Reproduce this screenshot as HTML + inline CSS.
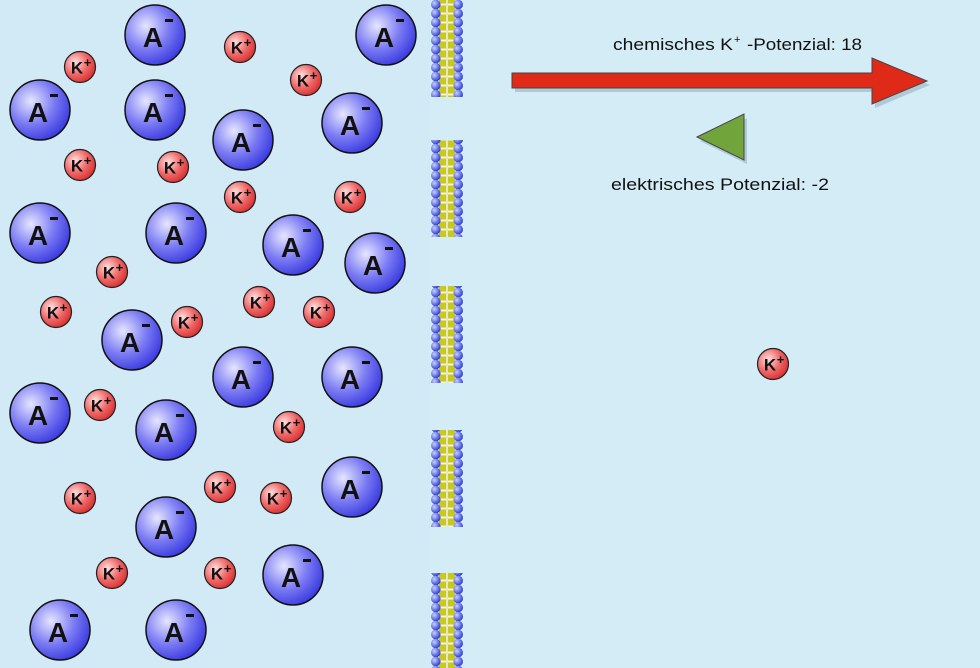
<!DOCTYPE html>
<html><head><meta charset="utf-8"><style>
body{margin:0;width:980px;height:668px;overflow:hidden;background:#d4ecf6;}
svg{display:block}
text{font-family:"Liberation Sans",sans-serif;}
</style></head><body>
<svg width="980" height="668" viewBox="0 0 980 668" xmlns="http://www.w3.org/2000/svg">
<defs>
<radialGradient id="ga" cx="0.35" cy="0.35" r="0.7"><stop offset="0" stop-color="#e6e6ff"/><stop offset="0.55" stop-color="#7c7cf4"/><stop offset="1" stop-color="#3a3ae0"/></radialGradient>
<radialGradient id="gk" cx="0.35" cy="0.35" r="0.7"><stop offset="0" stop-color="#ffe0e0"/><stop offset="0.55" stop-color="#f06a6a"/><stop offset="1" stop-color="#d83030"/></radialGradient>
<radialGradient id="gb" cx="0.35" cy="0.35" r="0.7"><stop offset="0" stop-color="#c8d0ff"/><stop offset="1" stop-color="#2838d0"/></radialGradient>
<pattern id="mem" x="431" y="0" width="32" height="9" patternUnits="userSpaceOnUse">
<rect x="8" y="0" width="16" height="9" fill="#c8c820"/>
<rect x="8" y="3.5" width="16" height="2" fill="#f4f4e0"/>
<rect x="15" y="0" width="2" height="9" fill="#e8e8c0"/>
<circle cx="4.8" cy="4.5" r="4.8" fill="url(#gb)"/>
<circle cx="27.2" cy="4.5" r="4.8" fill="url(#gb)"/>
</pattern>
<g id="A"><circle r="30" fill="url(#ga)" stroke="#111" stroke-width="1.5"/><text x="-2" y="12" font-size="28" font-weight="bold" text-anchor="middle" fill="#111">A</text><rect x="10" y="-16" width="8" height="3" fill="#111"/></g>
<g id="K"><circle r="15.5" fill="url(#gk)" stroke="#222" stroke-width="1.2"/><text x="-3" y="6.5" font-size="17" font-weight="bold" text-anchor="middle" fill="#111">K</text><text x="7.5" y="0" font-size="13" font-weight="bold" text-anchor="middle" fill="#111">+</text></g>
</defs>
<rect width="980" height="668" fill="#d4ecf6"/>
<rect x="0" y="0" width="430" height="668" fill="#d2eaf5"/>
<rect x="431" y="0" width="32" height="97" fill="url(#mem)"/>
<rect x="431" y="140" width="32" height="97" fill="url(#mem)"/>
<rect x="431" y="286" width="32" height="97" fill="url(#mem)"/>
<rect x="431" y="430" width="32" height="97" fill="url(#mem)"/>
<rect x="431" y="573" width="32" height="95" fill="url(#mem)"/>
<use href="#A" x="155" y="35"/><use href="#A" x="386" y="35"/><use href="#A" x="40" y="110"/><use href="#A" x="155" y="110"/><use href="#A" x="243" y="140"/><use href="#A" x="352" y="123"/><use href="#A" x="40" y="233"/><use href="#A" x="176" y="233"/><use href="#A" x="293" y="245"/><use href="#A" x="375" y="263"/><use href="#A" x="132" y="340"/><use href="#A" x="243" y="377"/><use href="#A" x="352" y="377"/><use href="#A" x="40" y="413"/><use href="#A" x="166" y="430"/><use href="#A" x="352" y="487"/><use href="#A" x="166" y="527"/><use href="#A" x="293" y="575"/><use href="#A" x="60" y="630"/><use href="#A" x="176" y="630"/>
<use href="#K" x="80" y="67"/><use href="#K" x="240" y="47"/><use href="#K" x="306" y="80"/><use href="#K" x="80" y="165"/><use href="#K" x="173" y="167"/><use href="#K" x="240" y="197"/><use href="#K" x="350" y="197"/><use href="#K" x="112" y="272"/><use href="#K" x="56" y="312"/><use href="#K" x="259" y="302"/><use href="#K" x="319" y="312"/><use href="#K" x="187" y="322"/><use href="#K" x="100" y="405"/><use href="#K" x="289" y="427"/><use href="#K" x="80" y="498"/><use href="#K" x="220" y="487"/><use href="#K" x="276" y="498"/><use href="#K" x="112" y="573"/><use href="#K" x="220" y="573"/><use href="#K" x="773" y="364"/>
<polygon points="515,77 875,77 875,62 930,85 875,108 875,92 515,92" fill="#8aa8b8" opacity="0.5"/>
<polygon points="512,73 872,73 872,58 927,81 872,104 872,88 512,88" fill="#e02a18" stroke="#444" stroke-width="1"/>
<polygon points="700,141 747,118 747,164" fill="#8aa8b8" opacity="0.5"/>
<polygon points="697,137 744,114 744,160" fill="#72a43c" stroke="#444" stroke-width="1"/>
<text x="613" y="50" font-size="17" fill="#111" textLength="120" lengthAdjust="spacingAndGlyphs">chemisches K</text>
<text x="734" y="43" font-size="11" fill="#111">+</text>
<text x="747" y="50" font-size="17" fill="#111" textLength="115" lengthAdjust="spacingAndGlyphs">-Potenzial: 18</text>
<text x="611" y="190" font-size="17" fill="#111" textLength="218" lengthAdjust="spacingAndGlyphs">elektrisches Potenzial: -2</text>
</svg>
</body></html>
